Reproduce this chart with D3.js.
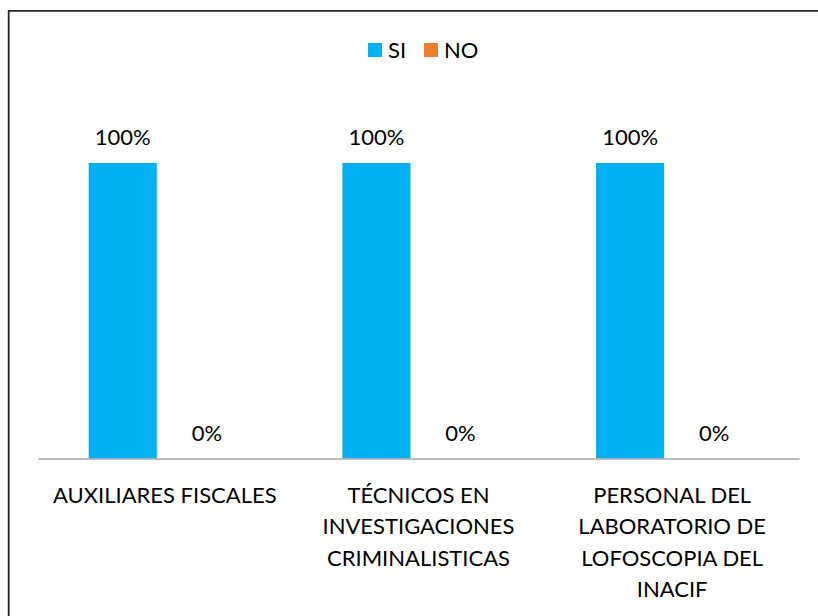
<!DOCTYPE html>
<html><head><meta charset="utf-8">
<script src="https://cdn.jsdelivr.net/npm/d3@7"></script>
<style>
body{margin:0;background:#fff}
text{font-family:Lato,"Open Sans",sans-serif;fill:#000}
</style>
</head><body>
<svg id="c" width="818" height="616"></svg>
<script>
const categories = ["AUXILIARES FISCALES", "TÉCNICOS EN\nINVESTIGACIONES\nCRIMINALISTICAS", "PERSONAL DEL\nLABORATORIO DE\nLOFOSCOPIA DEL\nINACIF"];
const seriesNames = ["SI", "NO"];
const siValues = [1, 1, 1];
const noValues = [0, 0, 0];
const seriesColors = ["#00B0F0", "#ED7D31"];

const svg = d3.select("#c");
const fontSize = 22;

// frame border (top + left visible)
svg.append("path")
  .attr("d", "M8.7,620 L8.7,10.8 L822,10.8")
  .attr("fill", "none").attr("stroke", "#262626").attr("stroke-width", 1.8);

const x = d3.scaleBand().domain(categories).range([38, 799]).paddingInner(0).paddingOuter(0);
const xs = d3.scaleBand().domain(seriesNames).range([0, x.bandwidth()]).paddingInner(0.19).paddingOuter(0.603);
const y = d3.scaleLinear().domain([0, 1]).range([458.5, 163]);

const color = d3.scaleOrdinal().domain(seriesNames).range(seriesColors);
const fmt = d3.format(".0%");

const rows = categories.map((c, i) => ({cat: c, values: [
  {s: "SI", v: siValues[i]}, {s: "NO", v: noValues[i]}
]}));

const g = svg.append("g");
const groups = g.selectAll("g.cat").data(rows).join("g")
  .attr("class", "cat")
  .attr("transform", d => `translate(${x(d.cat)},0)`);

groups.selectAll("rect").data(d => d.values).join("rect")
  .attr("x", d => xs(d.s))
  .attr("width", xs.bandwidth())
  .attr("y", d => y(d.v))
  .attr("height", d => y(0) - y(d.v))
  .attr("fill", d => color(d.s));

groups.selectAll("text.lbl").data(d => d.values).join("text")
  .attr("class", "lbl")
  .attr("x", d => xs(d.s) + xs.bandwidth() / 2)
  .attr("y", d => y(d.v) - 18)
  .attr("text-anchor", "middle")
  .attr("font-size", fontSize)
  .text(d => fmt(d.v));

// x axis
const axis = svg.append("g")
  .attr("transform", `translate(0,${y(0)})`)
  .call(d3.axisBottom(x).tickSize(0).tickSizeOuter(0).tickFormat(""));
axis.select(".domain").attr("stroke", "#A6A6A6").attr("stroke-width", 1.5);
axis.selectAll(".tick text").remove();
axis.selectAll(".tick").append("text")
  .attr("text-anchor", "middle")
  .attr("font-size", fontSize)
  .attr("fill", "#000")
  .style("font-family", "Lato, sans-serif")
  .each(function(d) {
    const lines = d.split("\n");
    d3.select(this).selectAll("tspan").data(lines).join("tspan")
      .attr("x", 0)
      .attr("y", (l, i) => 44 + i * 31.5)
      .text(l => l);
  });

// legend
const legend = svg.append("g");
const items = legend.selectAll("g").data(seriesNames).join("g")
  .attr("transform", (d, i) => `translate(${368 + i * 56},43)`);
items.append("rect").attr("width", 14).attr("height", 14).attr("fill", d => color(d));
items.append("text").attr("x", 20).attr("y", 14.5).attr("font-size", fontSize).text(d => d);
</script>
</body></html>
